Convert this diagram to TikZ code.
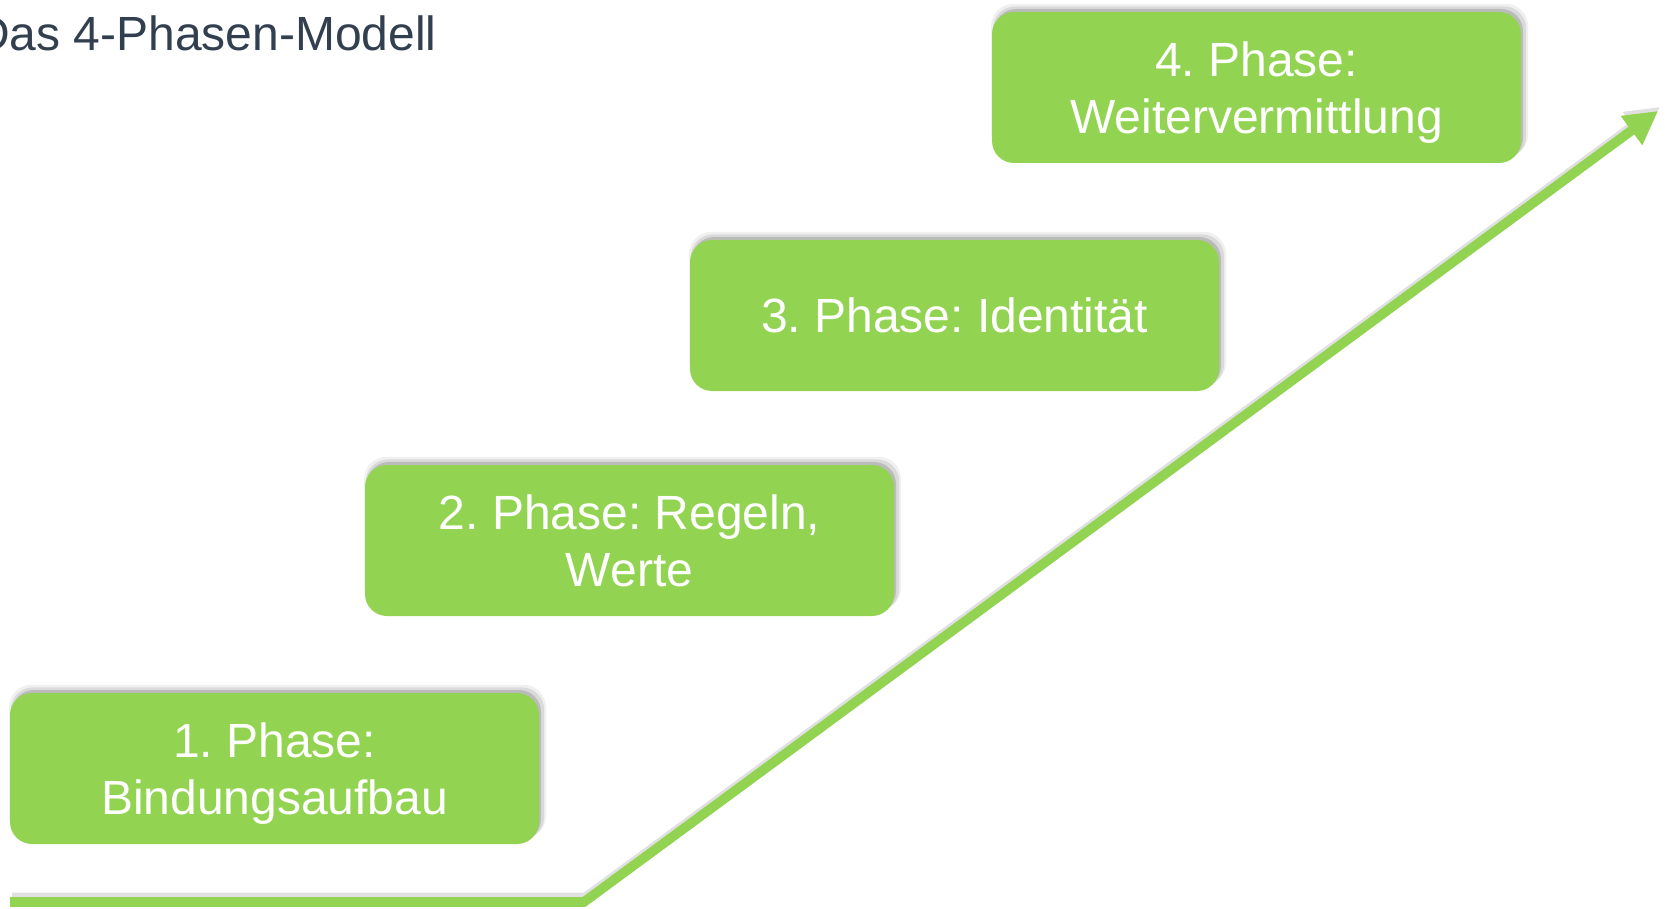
\documentclass[tikz,border=0pt]{standalone}
\usepackage{fontspec}
\setmainfont{Liberation Sans}
\usepackage{tikz}
\usetikzlibrary{arrows.meta, positioning, shadows}
\usepackage{xcolor}
\definecolor{phasegreen}{RGB}{146, 212, 82}
\definecolor{titlegray}{RGB}{50, 63, 79}
\frenchspacing

\begin{document}
\begin{tikzpicture}[
        x=0.5pt, y=-0.5pt,
        phase/.style={rectangle, rounded corners=11pt, fill=phasegreen,
                      text=white, minimum width=264.5pt, minimum height=75.5pt,
                      align=center, inner sep=0pt, text depth=0pt,
                      font=\fontsize{24}{28.5}\selectfont,
                      drop shadow={shadow xshift=1.5pt, shadow yshift=3.5pt,
                                   shadow scale=1.015, opacity=0.06, fill=black},
                      drop shadow={shadow xshift=1.5pt, shadow yshift=2.5pt,
                                   shadow scale=1.008, opacity=0.09, fill=black},
                      drop shadow={shadow xshift=1pt, shadow yshift=1.5pt,
                                   opacity=0.14, fill=black}},
        heading/.style={text=titlegray, inner sep=0pt,
                        font=\fontsize{24}{28}\selectfont},
        arrow/.style={-{Triangle[length=16.5pt, width=17pt]}, phasegreen,
                      line width=4.8pt},
        arrowshadow/.style={-{Triangle[length=16.5pt, width=17pt]}, black,
                            line width=5.5pt, opacity=0.12},
    ]
        \useasboundingbox (0,0) rectangle (1665,909);

        \node[heading, anchor=base east] (title) at (437,51) {Das 4-Phasen-Modell};

        \node[phase] (p1) at (274.5,768.5) {1. Phase:\\Bindungsaufbau};
        \node[phase] (p2) at (629.5,540.5) {2. Phase: Regeln,\\Werte};
        \node[phase] (p3) at (954.5,315.5) {3. Phase: Identität};
        \node[phase] (p4) at (1256.5,87.5) {4. Phase:\\Weitervermittlung};

        % growth line
        \coordinate (start) at (10,902);
        \coordinate (knee) at (584,902);
        \coordinate (tip) at (1658,111);

        \draw[arrowshadow, transform canvas={xshift=1pt, yshift=2pt}]
            (start) -- (knee) -- (tip);
        \draw[arrow] (start) -- (knee) -- (tip);

    \end{tikzpicture}
\end{document}
